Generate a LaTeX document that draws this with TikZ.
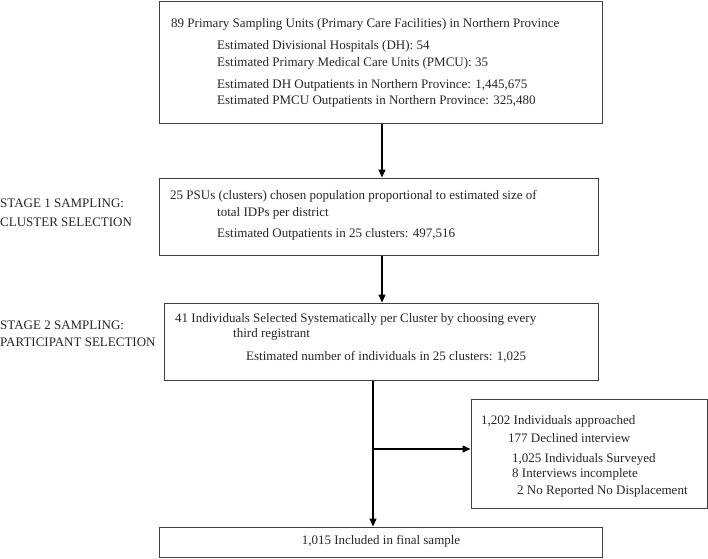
\documentclass[tikz,border=0pt]{standalone}
\usepackage{fontspec}
\setmainfont{Liberation Serif}
\usetikzlibrary{arrows.meta}
\begin{document}
\begin{tikzpicture}[x=1pt,y=-1pt,
  box/.style={draw=black!75,line width=1pt,inner sep=0pt,rectangle},
  txt/.style={anchor=base west,inner sep=0pt,text=black!85,font=\fontsize{13}{15}\selectfont},
  arr/.style={draw=black,line width=1.2pt,-{Triangle[width=7pt,length=8pt]}}]
\useasboundingbox (0,0) rectangle (708,558);
% boxes
\node[box,minimum width=443pt,minimum height=122pt] (b1) at (380.5,62) {};
\node[box,minimum width=439pt,minimum height=77pt] (b2) at (378.5,216.5) {};
\node[box,minimum width=434pt,minimum height=77pt] (b3) at (381,341.5) {};
\node[box,minimum width=236pt,minimum height=109pt] (b4) at (589,453.5) {};
\node[box,minimum width=443pt,minimum height=30pt] (b5) at (380.5,542) {};
% box 1 text
\node[txt] (t11) at (171,27) {89 Primary Sampling Units (Primary Care Facilities) in Northern Province};
\node[txt] (t12) at (217,49) {Estimated Divisional Hospitals (DH): 54};
\node[txt] (t13) at (217,66) {Estimated Primary Medical Care Units (PMCU): 35};
\node[txt] (t14) at (217,88) {Estimated DH Outpatients in Northern Province: 1,445,675};
\node[txt] (t15) at (217,104) {Estimated PMCU Outpatients in Northern Province: 325,480};
% box 2 text
\node[txt] (t21) at (170,199) {25 PSUs (clusters) chosen population proportional to estimated size of};
\node[txt] (t22) at (217,216) {total IDPs per district};
\node[txt] (t23) at (217,237) {Estimated Outpatients in 25 clusters: 497,516};
% box 3 text
\node[txt] (t31) at (175,322) {41 Individuals Selected Systematically per Cluster by choosing every};
\node[txt] (t32) at (233,337) {third registrant};
\node[txt] (t33) at (246,360) {Estimated number of individuals in 25 clusters: 1,025};
% box 4 text
\node[txt] (t41) at (481,424) {1,202 Individuals approached};
\node[txt] (t42) at (508,442) {177 Declined interview};
\node[txt] (t43) at (512,462) {1,025 Individuals Surveyed};
\node[txt] (t44) at (512,477) {8 Interviews incomplete};
\node[txt] (t45) at (517,494) {2 No Reported No Displacement};
% box 5 text
\node[txt,anchor=base] (t51) at (381,544) {1,015 Included in final sample};
% stage labels
\node[txt] (s11) at (0,207) {STAGE 1 SAMPLING:};
\node[txt] (s12) at (0,226) {CLUSTER SELECTION};
\node[txt] (s21) at (0,329) {STAGE 2 SAMPLING:};
\node[txt] (s22) at (0,346) {PARTICIPANT SELECTION};
% connectors
\coordinate (ax) at (382,0);
\coordinate (j) at (373,449);
\draw[arr] (b1.south -| ax) -- (b2.north -| ax);
\draw[arr] (b2.south -| ax) -- (b3.north -| ax);
\draw[arr] (b3.south -| j) -- (b5.north -| j);
\draw[arr] (j) -- (b4.west |- j);
\end{tikzpicture}
\end{document}
